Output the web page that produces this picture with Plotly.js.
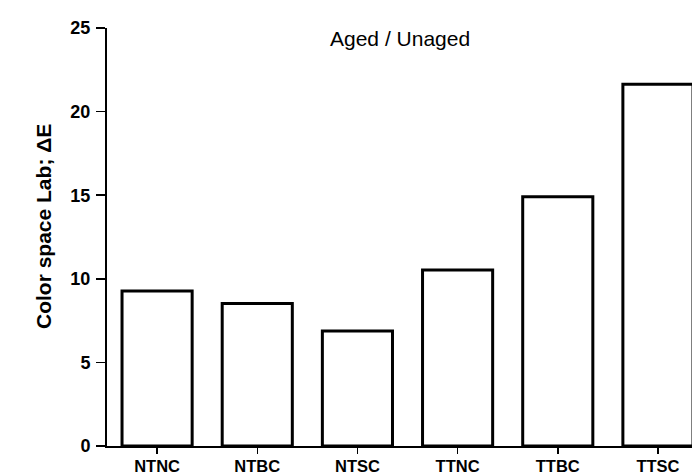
<!DOCTYPE html>
<html>
<head>
<meta charset="utf-8">
<script src="https://cdn.plot.ly/plotly-3.0.1.min.js"></script>
<style>html,body{margin:0;padding:0;overflow:hidden;background:#fff;}</style>
</head>
<body>
<div id="chart" style="width:692px;height:476px;"></div>
<script>
const categories = ["NTNC", "NTBC", "NTSC", "TTNC", "TTBC", "TTSC"];
const deltaE = [9.27, 8.53, 6.88, 10.52, 14.9, 21.63];
const yTicks = [0, 5, 10, 15, 20, 25];
const chartTitle = "Aged / Unaged";
const yLabel = "Color space Lab; ΔE";

const fontFam = "Liberation Sans, Arial, sans-serif";

const trace = {
  type: "bar",
  x: categories,
  y: deltaE,
  width: 0.7,
  marker: {color: "#ffffff", line: {color: "#000000", width: 3}},
  hoverinfo: "none"
};

const layout = {
  width: 692,
  height: 476,
  margin: {l: 107, r: 0, t: 28, b: 30, pad: 0},
  paper_bgcolor: "#ffffff",
  plot_bgcolor: "#ffffff",
  showlegend: false,
  bargap: 0.3,
  xaxis: {
    type: "category",
    range: [-0.5, 5.34],
    showline: true, linecolor: "#000", linewidth: 2,
    ticks: "outside", ticklen: 6, tickwidth: 1.5, tickcolor: "#000",
    ticklabelstandoff: -2,
    tickfont: {family: fontFam, size: 16.5, color: "#000", weight: "bold"},
    showgrid: false, zeroline: false, fixedrange: true
  },
  yaxis: {
    range: [0, 25],
    tickvals: yTicks,
    ticktext: yTicks.map(String),
    showline: true, linecolor: "#000", linewidth: 2,
    ticks: "outside", ticklen: 9, tickwidth: 1.5, tickcolor: "#000",
    ticklabelstandoff: 2,
    tickfont: {family: fontFam, size: 18, color: "#000", weight: "bold"},
    showgrid: false, zeroline: false, fixedrange: true
  },
  annotations: [
    {
      text: chartTitle, xref: "paper", yref: "paper",
      x: 0.5, y: (446 - 38) / 418, xanchor: "center", yanchor: "middle",
      showarrow: false,
      font: {family: fontFam, size: 21, color: "#000"}
    },
    {
      text: yLabel, xref: "paper", yref: "paper",
      x: (43 - 107) / 585, y: (446 - 227) / 418, xanchor: "center", yanchor: "middle",
      textangle: -90, showarrow: false,
      font: {family: fontFam, size: 21, color: "#000", weight: "bold"}
    }
  ]
};

Plotly.newPlot("chart", [trace], layout, {displayModeBar: false, staticPlot: true});
</script>
</body>
</html>
